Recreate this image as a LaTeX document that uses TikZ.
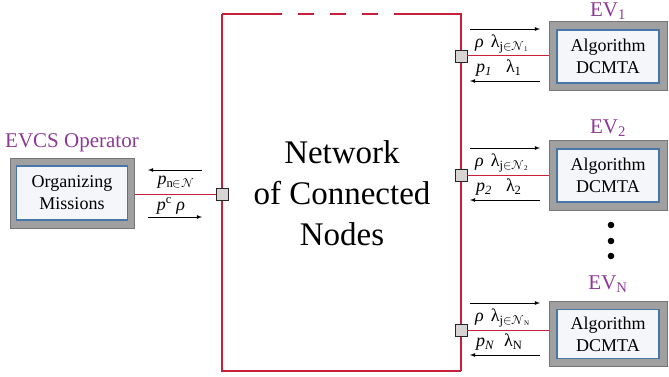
\documentclass[tikz,border=0pt]{standalone}
\usepackage{fontspec}
\newfontfamily\timesfont{Liberation Serif}
\newfontfamily\symfont{latinmodern-math.otf}
\definecolor{netred}{HTML}{C8203A}
\definecolor{evpurple}{HTML}{8C3A96}
\definecolor{outergray}{HTML}{A0A0A0}
\definecolor{edgegray}{HTML}{767676}
\definecolor{innerblue}{HTML}{4876A8}
\definecolor{innerfill}{HTML}{F4F6F9}
\definecolor{portfill}{HTML}{D8D4D4}
% subscript with a calligraphic set name
\newcommand{\setsub}[2]{\textsubscript{#1{\symfont ∈𝒩}\raisebox{-1.5pt}{\fontsize{7}{8}\selectfont #2}}}
\begin{document}
\begin{tikzpicture}[x=1pt,y=-1pt,>=latex,
    outer/.style={draw=edgegray,fill=outergray,line width=1pt,inner sep=0pt,
      minimum width=118pt,minimum height=69pt},
    inner/.style={draw=innerblue,fill=innerfill,line width=1.6pt,inner sep=0pt,
      minimum width=102pt,minimum height=53pt,align=center,
      font=\fontsize{18}{22}\timesfont},
    evname/.style={evpurple,font=\fontsize{21}{24}\timesfont,inner sep=0pt},
    port/.style={draw=black!85,fill=portfill,line width=0.8pt,inner sep=0pt,
      minimum size=12pt},
    link/.style={netred,line width=1pt},
    msg/.style={->,line width=0.8pt},
    lbl/.style={font=\fontsize{18}{22}\timesfont,inner sep=0pt}]
  \useasboundingbox (0,0) rectangle (669,377);

  % network of connected nodes
  \draw[netred,line width=2pt] (222,14) -- (282,14);
  \draw[netred,line width=2pt] (222,14) -- (222,371) -- (461,371);
  \draw[netred,line width=2pt] (461,371) -- (461,14) -- (394,14);
  \draw[netred,line width=2pt,dash pattern=on 16pt off 16pt,dash phase=16pt]
    (282,14) -- (394,14);
  \node[align=center,font=\fontsize{33}{41}\timesfont] (net) at (342,193)
    {Network\\of Connected\\Nodes};

  % ports
  \node[port] (p0) at (222,194) {};
  \node[port] (p1) at (461,56) {};
  \node[port] (p2) at (461,175) {};
  \node[port] (pn) at (461,330) {};

  % operator
  \node[outer,minimum width=124pt,minimum height=70pt] (op) at (72,193) {};
  \node[inner,minimum width=111pt,minimum height=54pt] (opin) at (op.center)
    {Organizing\\Missions};
  \node[evname] (opname) at (72,143) {EVCS Operator};

  % electric vehicles
  \node[outer] (ev1) at (608,56.5) {};
  \node[inner] (ev1in) at (ev1.center) {Algorithm\\DCMTA};
  \node[evname] (ev1name) at (608,11) {EV\textsubscript{1}};

  \node[outer] (ev2) at (608,175.5) {};
  \node[inner] (ev2in) at (ev2.center) {Algorithm\\DCMTA};
  \node[evname] (ev2name) at (608,128) {EV\textsubscript{2}};

  \node[outer,minimum height=65pt] (evn) at (608,334) {};
  \node[inner,minimum height=49pt] (evnin) at (evn.center) {Algorithm\\DCMTA};
  \node[evname] (evnname) at (608,284) {EV\textsubscript{N}};

  \foreach \y in {225,241,256}
    \fill (611,\y) circle (3.3pt);

  % links
  \draw[link] (p0) -- (p0 -| op.east);
  \draw[link] (p1) -- (p1 -| ev1.west);
  \draw[link] (p2) -- (p2 -| ev2.west);
  \draw[link] (pn) -- (pn -| evn.west);

  % messages
  \draw[msg] (202,170) -- (148,170);
  \draw[msg] (148,217) -- (202,217);
  \node[lbl] (m0a) at (176,182) {\textit{p}\textsubscript{n{\symfont ∈𝒩}}};
  \node[lbl] (m0b) at (171,206) {\textit{p}\textsuperscript{c} \textit{ρ}};

  \draw[msg] (470,29) -- (540,29);
  \draw[msg] (540,81) -- (470,81);
  \node[lbl,anchor=west] (m1a) at (475,44) {\textit{ρ}\hspace{7pt}λ\setsub{j}{1}};
  \node[lbl,anchor=west] (m1b) at (476,68) {\textit{p\textsubscript{1}}\hspace{14pt}λ\textsubscript{1}};

  \draw[msg] (470,148) -- (540,148);
  \draw[msg] (540,200) -- (470,200);
  \node[lbl,anchor=west] (m2a) at (475,163) {\textit{ρ}\hspace{7pt}λ\setsub{j}{2}};
  \node[lbl,anchor=west] (m2b) at (476,187) {\textit{p\textsubscript{2}}\hspace{14pt}λ\textsubscript{2}};

  \draw[msg] (470,303) -- (540,303);
  \draw[msg] (540,355) -- (470,355);
  \node[lbl,anchor=west] (mna) at (475,318) {\textit{ρ}\hspace{7pt}λ\setsub{j}{N}};
  \node[lbl,anchor=west] (mnb) at (476,342) {\textit{p\textsubscript{N}}\hspace{10pt}λ\textsubscript{N}};
\end{tikzpicture}
\end{document}
